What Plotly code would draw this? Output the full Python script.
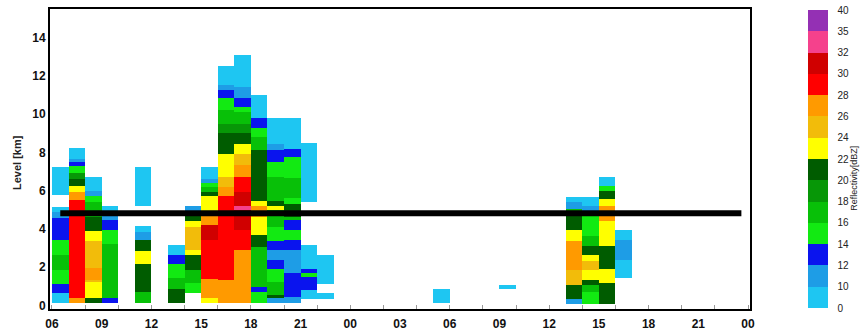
import numpy as np
import plotly.graph_objects as go

# Hourly columns, counted from 06 UTC on the first day (42 hours shown)
N_HOURS = 42
tick_hours = list(range(0, 43, 3))
tick_text = ["06", "09", "12", "15", "18", "21", "00", "03", "06", "09", "12", "15", "18", "21", "00"]

# Reflectivity class boundaries (dBZ) and their colours
dbz_bounds = [0, 10, 12, 14, 16, 18, 20, 22, 24, 26, 28, 30, 32, 35, 40]
dbz_colors = ["#1ec6f2", "#1e9de6", "#0a14ee", "#12ea12", "#08c008", "#079707",
              "#005c00", "#ffff00", "#f2bc0a", "#ff9a00", "#ff0000", "#d00000",
              "#f5418c", "#9430b4"]

# Melting-layer height (km)
freezing_level = 4.82

# Vertical profiles: hour column -> (bottom km, top km, dBZ)
profiles = {
    0: [(0.1, 0.65, 5), (0.65, 1.12, 13), (1.12, 1.85, 15), (1.85, 2.64, 17), (2.64, 3.42, 15),
        (3.42, 4.57, 13), (4.57, 4.9, 11), (4.9, 5.16, 5), (5.76, 7.22, 5)],
    1: [(0.1, 0.38, 27), (0.38, 5.5, 29), (5.5, 5.92, 27), (5.92, 6.25, 23), (6.25, 6.6, 21),
        (6.6, 6.95, 19), (6.95, 7.28, 15), (7.28, 7.5, 13), (7.5, 7.65, 11), (7.65, 8.25, 5)],
    2: [(0.1, 0.4, 21), (0.4, 1.2, 23), (1.2, 1.35, 25), (1.35, 1.95, 27), (1.95, 3.38, 25),
        (3.38, 3.9, 23), (3.9, 4.65, 21), (4.65, 5.42, 17), (5.42, 5.7, 15), (5.7, 5.98, 11),
        (5.98, 6.73, 5)],
    3: [(0.1, 0.38, 13), (0.38, 3.2, 17), (3.2, 3.94, 15), (3.94, 4.45, 13), (4.45, 4.75, 11),
        (4.75, 5.2, 5)],
    5: [(0.15, 0.7, 17), (0.7, 2.15, 21), (2.15, 2.85, 23), (2.85, 3.42, 21), (3.42, 3.86, 11),
        (3.86, 4.15, 5), (5.2, 7.25, 5)],
    7: [(0.12, 0.85, 21), (0.85, 1.45, 17), (1.45, 2.15, 15), (2.15, 2.64, 13), (2.64, 3.16, 5)],
    8: [(0.65, 1.16, 15), (1.16, 1.85, 17), (1.85, 2.64, 21), (2.64, 2.9, 23), (2.9, 4.12, 25),
        (4.12, 4.4, 23), (4.4, 4.75, 21), (4.75, 5.2, 11)],
    9: [(0.1, 0.38, 23), (0.38, 1.38, 27), (1.38, 3.4, 29), (3.4, 4.2, 31), (4.2, 4.75, 27),
        (4.75, 5.75, 23), (5.75, 5.95, 21), (5.95, 6.2, 17), (6.2, 6.42, 15), (6.42, 6.6, 11),
        (6.6, 7.22, 5)],
    10: [(0.1, 1.33, 27), (1.33, 5.7, 29), (5.7, 6.2, 27), (6.2, 6.73, 25), (6.73, 7.95, 23),
         (7.95, 9.0, 21), (9.0, 9.5, 19), (9.5, 10.25, 17), (10.25, 10.85, 15), (10.85, 11.25, 13),
         (11.25, 11.5, 11), (11.5, 12.55, 5)],
    11: [(0.1, 2.9, 27), (2.9, 3.94, 29), (3.94, 5.0, 31), (5.0, 5.18, 33), (5.18, 5.95, 31),
         (5.95, 6.73, 29), (6.73, 7.35, 27), (7.35, 7.95, 25), (7.95, 8.47, 23), (8.47, 9.0, 21),
         (9.0, 9.5, 19), (9.5, 10.1, 17), (10.1, 10.4, 15), (10.4, 10.83, 13), (10.83, 11.43, 11),
         (11.43, 13.1, 5)],
    12: [(0.12, 0.68, 15), (0.68, 0.95, 13), (0.95, 3.07, 17), (3.07, 3.7, 21), (3.7, 4.65, 23),
         (4.65, 5.2, 27), (5.2, 5.45, 23), (5.45, 8.15, 21), (8.15, 8.78, 17), (8.78, 9.3, 15),
         (9.3, 9.8, 13), (9.8, 11.0, 5)],
    13: [(0.1, 0.38, 11), (0.38, 0.55, 21), (0.55, 1.2, 17), (1.2, 1.9, 15), (1.9, 2.38, 13),
         (2.38, 2.9, 11), (2.9, 3.35, 13), (3.35, 4.1, 15), (4.1, 5.0, 17), (5.0, 5.2, 23),
         (5.2, 5.45, 21), (5.45, 6.73, 17), (6.73, 7.5, 15), (7.5, 8.15, 13), (8.15, 8.45, 11),
         (8.45, 9.78, 5)],
    14: [(0.1, 0.45, 11), (0.45, 1.68, 13), (1.68, 2.9, 11), (2.9, 3.42, 13), (3.42, 3.94, 15),
         (3.94, 4.47, 13), (4.47, 4.65, 17), (4.65, 5.3, 21), (5.3, 5.6, 15), (5.6, 6.64, 17),
         (6.64, 7.77, 15), (7.77, 8.21, 13), (8.21, 9.78, 5)],
    15: [(0.33, 0.81, 5), (0.81, 1.48, 13), (1.48, 1.68, 15), (1.68, 1.9, 13), (1.9, 3.16, 5),
         (5.42, 8.5, 5)],
    16: [(0.33, 0.62, 5), (1.1, 2.64, 5)],
    23: [(0.1, 0.85, 5)],
    27: [(0.85, 1.05, 5)],
    31: [(0.08, 0.35, 11), (0.35, 1.07, 21), (1.07, 1.85, 25), (1.85, 3.38, 27), (3.38, 3.94, 23),
         (3.94, 4.7, 21), (4.7, 5.05, 17), (5.05, 5.42, 11), (5.42, 5.68, 5)],
    32: [(0.08, 0.68, 15), (0.68, 1.05, 17), (1.05, 1.3, 21), (1.3, 1.85, 23), (1.85, 2.33, 25),
         (2.33, 2.64, 23), (2.64, 3.1, 21), (3.1, 3.65, 17), (3.65, 4.7, 15), (4.7, 5.2, 11),
         (5.2, 5.68, 5)],
    33: [(0.08, 1.16, 21), (1.16, 1.9, 23), (1.9, 3.12, 21), (3.12, 4.4, 23), (4.4, 5.2, 27),
         (5.2, 5.55, 23), (5.55, 5.98, 21), (5.98, 6.25, 15), (6.25, 6.73, 5)],
    34: [(1.42, 2.38, 5), (2.38, 3.42, 11), (3.42, 3.94, 5)],
}

# Rasterise the profiles onto a fine height grid
dy = 0.02
y_edges = np.round(np.arange(0, 13.5 + dy / 2, dy), 4)
y_mid = 0.5 * (y_edges[:-1] + y_edges[1:])
x_edges = np.arange(N_HOURS + 1)
z = np.full((len(y_mid), N_HOURS), np.nan)
for hour, segs in profiles.items():
    for bottom, top, dbz in segs:
        cls = np.searchsorted(dbz_bounds, dbz, side="right") - 1
        z[(y_mid >= bottom) & (y_mid < top), hour] = cls + 0.5

n_cls = len(dbz_colors)
colorscale = []
for i, c in enumerate(dbz_colors):
    colorscale.append([i / n_cls, c])
    colorscale.append([(i + 1) / n_cls, c])

fig = go.Figure()
fig.add_trace(go.Heatmap(
    x=x_edges, y=y_edges, z=z,
    zmin=0, zmax=n_cls, colorscale=colorscale, zsmooth=False,
    hoverinfo="skip",
    colorbar=dict(
        tickmode="array", tickvals=list(range(n_cls + 1)),
        ticktext=[str(b) for b in dbz_bounds],
        thickness=20, len=0.993, lenmode="fraction",
        x=1.083, xanchor="left", y=0.5, yanchor="middle",
        outlinewidth=0, xpad=0, ypad=0,
        ticks="outside", ticklen=8, tickcolor="rgba(0,0,0,0)",
        tickfont=dict(family="Liberation Sans", size=10, color="#222"),
    ),
))

fig.add_shape(type="line", xref="x", yref="y",
              x0=0.5, x1=41.6, y0=freezing_level, y1=freezing_level,
              line=dict(color="black", width=6))

fig.add_annotation(text="Level [km]", textangle=-90, xref="paper", yref="paper",
                   x=-0.047, y=0.487, xanchor="center", yanchor="middle", showarrow=False,
                   font=dict(family="Liberation Sans", size=11, color="#222", weight="bold"))
fig.add_annotation(text="Reflectivity[dBZ]", textangle=-90, xref="paper", yref="paper",
                   x=1.1485, y=0.437, xanchor="center", yanchor="middle", showarrow=False,
                   font=dict(family="Liberation Sans", size=9, color="#222"))

axis_font = dict(family="Liberation Sans", size=12, color="#111", weight="bold")
fig.update_xaxes(range=[-0.12, 42.12], tickmode="array", tickvals=tick_hours, ticktext=tick_text,
                 ticks="", showgrid=False, zeroline=False, showline=True, linecolor="black",
                 linewidth=2, mirror=True, tickfont=axis_font, ticklabelstandoff=3,
                 minor=dict(tickmode="linear", tick0=0, dtick=2, ticks="inside",
                            ticklen=4, tickcolor="#999", showgrid=False))
fig.update_yaxes(range=[-0.18, 15.5], tickmode="array", tickvals=list(range(0, 15, 2)),
                 ticks="", showgrid=False, zeroline=False, showline=True, linecolor="black",
                 linewidth=2, mirror=True, tickfont=axis_font)

fig.update_layout(width=861, height=332,
                  margin=dict(l=50, r=111, t=9, b=23, autoexpand=False),
                  paper_bgcolor="white", plot_bgcolor="white", showlegend=False)

fig.write_html("out.html")
